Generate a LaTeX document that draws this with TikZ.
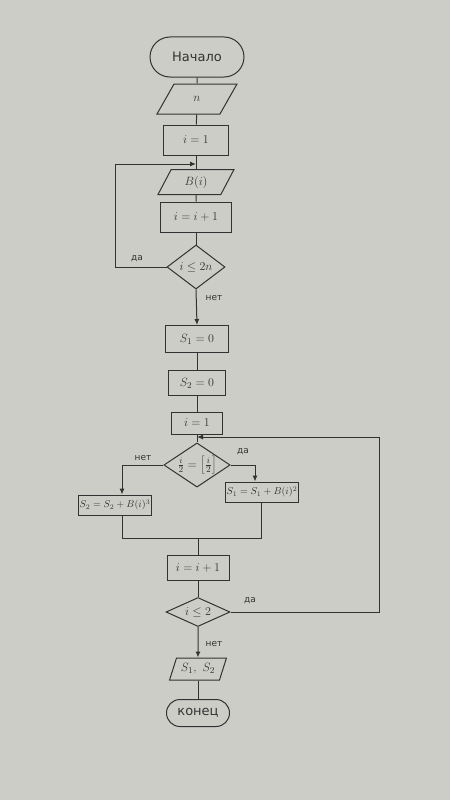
\documentclass[tikz,border=0pt]{standalone}
\usepackage{fontspec}
\setmainfont{DejaVu Sans}
\usetikzlibrary{shapes.geometric,shapes.misc,arrows.meta}
\definecolor{paper}{RGB}{205,205,200}
\definecolor{pencil}{RGB}{50,50,50}
\tikzset{
  base/.style={draw=pencil, line width=1pt, text=pencil, inner sep=1pt, font=\fontsize{13}{15}\selectfont},
  term/.style={base, rounded rectangle},
  io/.style={base, trapezium, trapezium left angle=65, trapezium right angle=115, trapezium stretches=true},
  proc/.style={base, rectangle},
  dec/.style={base, diamond, shape aspect=1.5},
  lbl/.style={text=pencil, font=\fontsize{9}{11}\selectfont},
  ln/.style={draw=pencil, line width=1pt},
  arr/.style={ln, -{Latex[length=6pt,width=5pt]}}
}
\begin{document}
\begin{tikzpicture}[x=1pt,y=-1pt]
\fill[paper] (0,0) rectangle (450,800);
\useasboundingbox (0,0) rectangle (450,800);

\node[term, minimum width=96pt, minimum height=40pt] (start) at (197,57) {Начало};
\node[io, minimum width=80pt, minimum height=30pt] (n) at (197,99) {$n$};
\node[proc, minimum width=65pt, minimum height=30pt] (i1) at (196,140) {$i = 1$};
\node[io, minimum width=76pt, minimum height=25pt] (b) at (196,182) {$B(i)$};
\node[proc, minimum width=71pt, minimum height=30pt] (inc1) at (196,217) {$i = i + 1$};
\node[dec, minimum width=58pt, minimum height=44pt, inner sep=0pt] (d1) at (196,267) {$i \le 2n$};
\coordinate (j1) at (196,164);
\coordinate (l1) at (115,267);
\coordinate (l1t) at (115,164);

\node[proc, minimum width=63pt, minimum height=27pt] (s1) at (197,339) {$S_1 = 0$};
\node[proc, minimum width=57pt, minimum height=25pt] (s2) at (197,383) {$S_2 = 0$};
\node[proc, minimum width=51pt, minimum height=22pt] (i2) at (197,423) {$i = 1$};
\coordinate (j2) at (197,437);

\node[dec, minimum width=62pt, minimum height=36pt, inner sep=0pt] (d2) at (197,465) {$\frac{i}{2} = \left[\frac{i}{2}\right]$};
\node[proc, minimum width=66pt, minimum height=20pt, font=\fontsize{10}{12}\selectfont] (a2) at (115,505) {$S_2 = S_2 + B(i)^3$};
\node[proc, minimum width=70pt, minimum height=20pt, font=\fontsize{10}{12}\selectfont] (a1) at (262,492) {$S_1 = S_1 + B(i)^2$};
\coordinate (c2) at (122,465);
\coordinate (c1) at (255,465);
\coordinate (m2) at (122,538);
\coordinate (m1) at (261,538);
\coordinate (mm) at (198,538);

\node[proc, minimum width=62pt, minimum height=25pt] (inc2) at (198,568) {$i = i + 1$};
\node[dec, minimum width=64pt, minimum height=29pt, inner sep=0pt] (d3) at (198,612) {$i \le 2$};
\coordinate (r1) at (379,612);
\coordinate (r2) at (379,437);

\node[io, minimum width=57pt, minimum height=22pt] (out) at (198,669) {$S_1,\ S_2$};
\node[term, minimum width=65pt, minimum height=27pt] (end) at (198,713) {конец};

% connectors
\draw[ln] (start) -- (n);
\draw[ln] (n) -- (i1);
\draw[ln] (i1) -- (b);
\draw[ln] (b) -- (inc1);
\draw[ln] (inc1) -- (d1);
\draw[ln] (d1.west) -- (l1) -- (l1t);
\draw[arr] (l1t) -- (j1);
\node[lbl] (da1) at (137,259) {да};
\draw[arr] (d1.south) -- (s1.north);
\node[lbl] (net1) at (214,298) {нет};
\draw[ln] (s1) -- (s2);
\draw[ln] (s2) -- (i2);
\draw[ln] (i2) -- (d2);
\draw[ln] (d2.west) -- (c2);
\draw[arr] (c2) -- (a2.north -| c2);
\node[lbl] (net2) at (143,458) {нет};
\draw[ln] (d2.east) -- (c1);
\draw[arr] (c1) -- (a1.north -| c1);
\node[lbl] (da2) at (243,452) {да};
\draw[ln] (a2.south -| m2) -- (m2) -- (m1) -- (a1.south -| m1);
\draw[ln] (mm) -- (inc2);
\draw[ln] (inc2) -- (d3);
\draw[ln] (d3.east) -- (r1) -- (r2);
\draw[arr] (r2) -- (j2);
\node[lbl] (da3) at (250,601) {да};
\draw[arr] (d3.south) -- (out.north);
\node[lbl] (net3) at (214,644) {нет};
\draw[ln] (out) -- (end);
\end{tikzpicture}
\end{document}
